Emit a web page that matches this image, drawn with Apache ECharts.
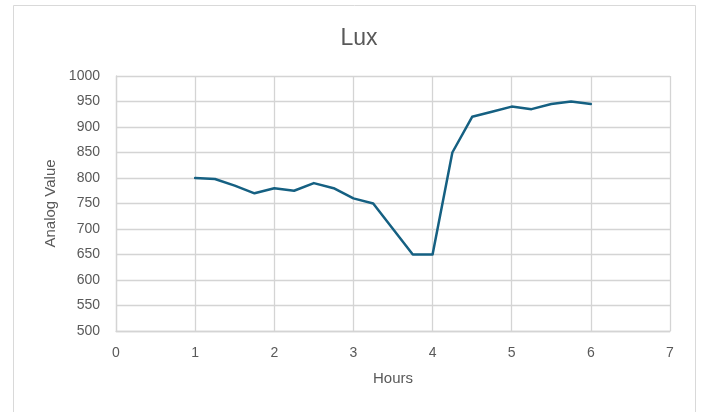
<!DOCTYPE html>
<html>
<head>
<meta charset="utf-8">
<script src="https://cdn.jsdelivr.net/npm/echarts@6/dist/echarts.min.js"></script>
<style>
html,body{margin:0;padding:0;background:#fff;}
#c{width:701px;height:412px;}
</style>
</head>
<body>
<div id="c"></div>
<script>
const hours = [1, 1.25, 1.5, 1.75, 2, 2.25, 2.5, 2.75, 3, 3.25, 3.5, 3.75, 4, 4.25, 4.5, 4.75, 5, 5.25, 5.5, 5.75, 6];
const analogValues = [800, 798, 785, 770, 780, 775, 790, 780, 760, 750, 700, 650, 650, 850, 920, 930, 940, 935, 945, 950, 945];
const titleText = 'Lux';
const xName = 'Hours';
const yName = 'Analog Value';

const chart = echarts.init(document.getElementById('c'));
const font = 'Liberation Sans, Arial, sans-serif';
const gridColor = '#d4d4d4';
chart.setOption({
  animation: false,
  backgroundColor: '#fff',
  title: {
    text: titleText, left: 354, top: 22, textAlign: 'center',
    textStyle: { fontFamily: font, fontSize: 23, fontWeight: 'normal', color: '#595959' }
  },
  graphic: [{
    type: 'rect', shape: { x: 13.5, y: 5.5, width: 682, height: 420 },
    style: { fill: 'none', stroke: '#d9d9d9', lineWidth: 1 }, silent: true
  }],
  grid: { left: 116, right: 31, top: 76, bottom: 81, containLabel: false },
  xAxis: {
    type: 'value', min: 0, max: 7, interval: 1,
    name: xName, nameLocation: 'middle', nameGap: 40,
    nameTextStyle: { fontFamily: font, fontSize: 15, color: '#595959' },
    axisLine: { show: true, lineStyle: { color: gridColor, width: 1.3 } },
    axisTick: { show: false },
    axisLabel: { fontFamily: font, fontSize: 14, color: '#595959', margin: 15, formatter: v => String(v) },
    splitLine: { show: true, lineStyle: { color: gridColor, width: 1.3 } }
  },
  yAxis: {
    type: 'value', min: 500, max: 1000, interval: 50,
    name: yName, nameLocation: 'middle', nameGap: 55,
    nameTextStyle: { fontFamily: font, fontSize: 15, color: '#595959' },
    axisLine: { show: true, lineStyle: { color: gridColor, width: 1.3 } },
    axisTick: { show: false },
    axisLabel: { fontFamily: font, fontSize: 14, color: '#595959', margin: 16, formatter: v => String(v) },
    splitLine: { show: true, lineStyle: { color: gridColor, width: 1.3 } }
  },
  series: [{
    type: 'line',
    data: hours.map((h, i) => [h, analogValues[i]]),
    showSymbol: false, symbol: 'none',
    lineStyle: { color: '#156082', width: 2.5, join: 'round', cap: 'round' },
    itemStyle: { color: '#156082' }
  }]
});
</script>
</body>
</html>
